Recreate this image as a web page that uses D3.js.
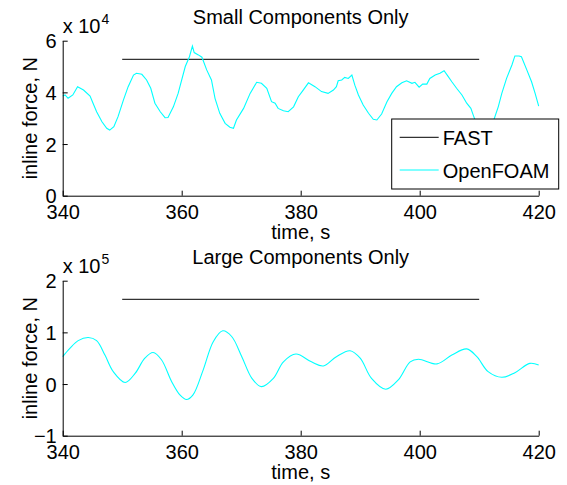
<!DOCTYPE html>
<html>
<head>
<meta charset="utf-8">
<script src="https://cdn.jsdelivr.net/npm/d3@7"></script>
<style>
  body { margin: 0; background: #fff; }
  svg { font-family: "Liberation Sans", Arial, Helvetica, sans-serif; }
  .axis text { font-size: 20px; fill: #000; }
  .axis path, .axis line { stroke: #000; }
</style>
</head>
<body>
<svg width="567" height="485"></svg>
<script>
// x ticks shared by both panels
var timeTicks = [340, 360, 380, 400, 420];

// FAST constant line (same span in both panels)
var fastTime = [350, 410];
var fastSmall = [52800, 52800];
var fastLarge = [164000, 164000];

// OpenFOAM, small components only (N)
var smallTime = [340.0, 340.4, 340.9, 341.7, 342.5, 343.5, 344.6, 345.1, 345.7, 346.6,
  347.4, 347.9, 348.6, 349.3, 350.2, 351.0, 351.9, 352.4, 353.3, 354.1,
  354.8, 355.5, 356.4, 357.2, 357.7, 358.6, 359.4, 359.7, 360.6, 361.3,
  361.8, 362.1, 362.8, 363.4, 364.2, 365.0, 365.6, 366.4, 367.3, 368.1,
  368.7, 369.2, 370.4, 371.5, 372.6, 373.4, 374.3, 375.1, 375.7, 376.2,
  377.1, 377.9, 378.8, 379.6, 380.3, 381.3, 382.4, 383.5, 384.6, 385.5,
  386.0, 386.3, 386.9, 387.4, 388.0, 388.6, 389.1, 389.7, 390.5, 391.4,
  392.2, 392.8, 393.6, 394.5, 395.3, 396.1, 397.0, 397.8, 398.7, 399.2,
  399.9, 400.5, 401.2, 401.7, 402.6, 403.4, 404.1, 404.8, 405.4, 406.2,
  407.1, 407.9, 408.6, 409.0, 409.3, 410.2, 411.0, 411.8, 412.5, 413.2,
  413.8, 414.6, 415.5, 416.0, 416.7, 417.1, 418.0, 418.8, 419.4, 420.0];
var smallForce = [38600, 39000, 37700, 39000, 42200, 40900, 38600, 35800, 32500, 28600,
  26100, 25400, 26700, 30600, 37000, 42200, 46700, 47400, 47000, 44800,
  41600, 35800, 32500, 30200, 30300, 34400, 39600, 42200, 50000, 53800,
  57900, 55400, 54500, 53600, 48700, 44800, 37700, 31900, 28000, 26500,
  26100, 29300, 33800, 39600, 43900, 43500, 41600, 36400, 35800, 33800,
  32900, 32500, 34400, 38300, 40500, 43700, 42200, 40300, 39600, 40900,
  42200, 44500, 44800, 45800, 45400, 46700, 42800, 39000, 35100, 31900,
  29600, 29300, 31600, 36400, 39600, 42200, 43700, 44500, 43500, 43900,
  42000, 43200, 43200, 45400, 46700, 47400, 48400, 46100, 44100, 41600,
  39000, 35800, 33800, 31200, 29300, 27000, 26200, 27500, 29600, 34400,
  39600, 45400, 50600, 54100, 54100, 53800, 48700, 44100, 39600, 34700];

// OpenFOAM, large components only (N)
var largeTime = [340.0, 341.2, 342.6, 344.3, 345.7, 347.1, 348.5, 350.5, 352.2, 353.8,
  355.2, 356.6, 358.3, 359.7, 360.8, 361.9, 363.6, 365.3, 366.9, 368.4,
  370.1, 371.8, 373.4, 375.4, 377.1, 379.2, 381.8, 383.8, 386.0, 388.3,
  390.0, 391.9, 394.3, 396.4, 398.4, 399.8, 402.9, 405.4, 407.9, 409.6,
  411.5, 413.8, 416.0, 418.5, 420.0];
var largeForce = [53000, 69000, 84000, 90000, 84000, 56000, 24000, 3000, 21000, 50000,
  61000, 47000, 5000, -21000, -30000, -21000, 27000, 82000, 103000, 92000,
  53000, 11000, -5000, 11000, 43000, 58000, 43000, 35000, 53000, 64500,
  50000, 11000, -10000, 8000, 43000, 48000, 39000, 56000, 68000, 53000,
  24000, 13000, 22000, 40000, 37000];

var svg = d3.select("svg");
var left = 62.7, right = 538.7;

var xScale = d3.scaleLinear().domain([340, 420]).range([left, right]);

function drawPanel(top, bottom, yDomain, yTicks, expo, title, fastVals, t, v, curve) {
    var yScale = d3.scaleLinear().domain(yDomain).range([bottom, top]);
    var div = Math.pow(10, expo);

    var g = svg.append("g");

    // FAST first, then OpenFOAM on top
    var fastData = fastTime.map(function(d, i) { return [d, fastVals[i]]; });
    g.append("path")
        .datum(fastData)
        .attr("fill", "none")
        .attr("stroke", "#000")
        .attr("stroke-width", 1)
        .attr("d", d3.line()
            .x(function(d) { return xScale(d[0]); })
            .y(function(d) { return yScale(d[1]); }));

    var data = t.map(function(d, i) { return [d, v[i]]; });
    g.append("path")
        .datum(data)
        .attr("fill", "none")
        .attr("stroke", "#00ffff")
        .attr("stroke-width", 1.1)
        .attr("d", d3.line()
            .curve(curve)
            .x(function(d) { return xScale(d[0]); })
            .y(function(d) { return yScale(d[1]); }));

    // axes, ticks pointing inward
    g.append("g")
        .attr("class", "axis")
        .attr("transform", "translate(0," + bottom + ")")
        .call(d3.axisBottom(xScale).tickValues(timeTicks)
            .tickSizeInner(-5).tickSizeOuter(0).tickPadding(9))
        .call(function(a) { a.selectAll("text").attr("font-family", null); });

    g.append("g")
        .attr("class", "axis")
        .attr("transform", "translate(" + left + ",0)")
        .call(d3.axisLeft(yScale).tickValues(yTicks)
            .tickSizeInner(-5).tickSizeOuter(0).tickPadding(6)
            .tickFormat(function(d) { return d3.format("")(d / div).replace("-", "\u2212"); }))
        .call(function(a) {
            a.selectAll("text").attr("font-family", null).attr("dy", "0.36em");
        });

    // exponent label
    var ex = g.append("text")
        .attr("x", left)
        .attr("y", top - 8)
        .attr("font-size", 20)
        .text("x 10");
    ex.append("tspan")
        .attr("font-size", 14)
        .attr("dy", -9)
        .attr("dx", 1)
        .text(expo);

    g.append("text")
        .attr("x", (left + right) / 2)
        .attr("y", top - 17)
        .attr("text-anchor", "middle")
        .attr("font-size", 20)
        .text(title);

    g.append("text")
        .attr("x", (left + right) / 2)
        .attr("y", bottom + 43)
        .attr("text-anchor", "middle")
        .attr("font-size", 20)
        .text("time, s");

    g.append("text")
        .attr("transform", "translate(37," + (top + bottom) / 2 + ") rotate(-90)")
        .attr("text-anchor", "middle")
        .attr("font-size", 20)
        .text("inline force, N");
}

drawPanel(40.7, 195.7, [0, 60000], [0, 20000, 40000, 60000], 4,
    "Small Components Only", fastSmall, smallTime, smallForce, d3.curveLinear);
drawPanel(280.7, 435.7, [-100000, 200000], [-100000, 0, 100000, 200000], 5,
    "Large Components Only", fastLarge, largeTime, largeForce, d3.curveCatmullRom);

// legend in the top panel
var legend = svg.append("g").attr("transform", "translate(391.7,119)");
legend.append("rect")
    .attr("width", 167)
    .attr("height", 70)
    .attr("fill", "#fff")
    .attr("stroke", "#000");
var items = [["FAST", "#000"], ["OpenFOAM", "#00ffff"]];
items.forEach(function(it, i) {
    var y = 18.3 + i * 32.7;
    legend.append("line")
        .attr("x1", 8).attr("x2", 47)
        .attr("y1", y).attr("y2", y)
        .attr("stroke", it[1]);
    legend.append("text")
        .attr("x", 51)
        .attr("y", y + 7.5)
        .attr("font-size", 20)
        .text(it[0]);
});
</script>
</body>
</html>
